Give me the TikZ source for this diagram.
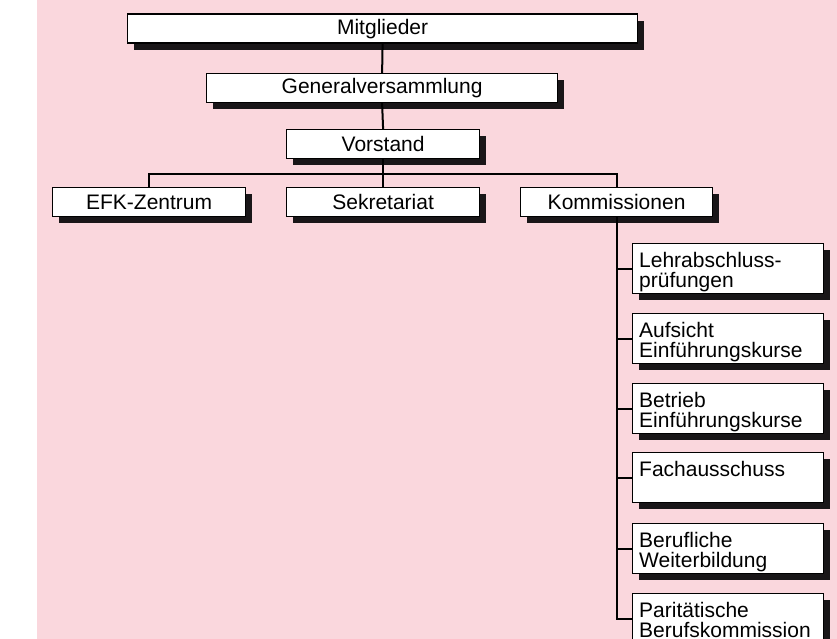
\documentclass[tikz,border=0pt]{standalone}
\usepackage{fontspec}
\setmainfont{Liberation Sans}
\usetikzlibrary{shadows}
\definecolor{bgpink}{RGB}{250,215,221}
\definecolor{shadowc}{RGB}{25,22,24}
\begin{document}
\begin{tikzpicture}[x=1pt,y=-1pt,
  box/.style={draw=black, line width=1.2pt, fill=white, rectangle, anchor=north west,
    inner sep=0pt, font=\fontsize{21}{21}\selectfont,
    general shadow={fill=shadowc, shadow xshift=6.5pt, shadow yshift=-6.5pt}},
  rbox/.style={box, minimum width=191pt, minimum height=50pt},
  rtxt/.style={anchor=north west, inner sep=0pt, align=left,
    font=\fontsize{21}{20.5}\selectfont},
  conn/.style={draw=black, line width=2pt}]
\clip (0,0) rectangle (837,639);
\fill[white] (0,0) rectangle (837,639);
\fill[bgpink] (37,0) rectangle (837,639);
% top chain
\node[box, minimum width=510pt, minimum height=29pt] (m) at (127,13.5) {Mitglieder};
\node[box, minimum width=351pt, minimum height=29pt] (g) at (206,73) {Generalversammlung};
\node[box, minimum width=193pt, minimum height=29pt] (v) at (286,129) {Vorstand};
% second row
\node[box, minimum width=193pt, minimum height=29pt] (e) at (52,187) {EFK-Zentrum};
\node[box, minimum width=193pt, minimum height=29pt] (s) at (286,187) {Sekretariat};
\node[box, minimum width=192pt, minimum height=29pt] (k) at (520,187) {Kommissionen};
% commissions
\node[rbox] (k1) at (632,243) {};
\node[rbox] (k2) at (632,313) {};
\node[rbox] (k3) at (632,383) {};
\node[rbox] (k4) at (632,452) {};
\node[rbox] (k5) at (632,523) {};
\node[rbox] (k6) at (632,593) {};
\node[rtxt] (t1) at (639,252) {Lehrabschluss-\\prüfungen};
\node[rtxt] (t2) at (639,322) {Aufsicht\\Einführungskurse};
\node[rtxt] (t3) at (639,392) {Betrieb\\Einführungskurse};
\node[rtxt] (t4) at (639,461) {Fachausschuss};
\node[rtxt] (t5) at (639,532) {Berufliche\\Weiterbildung};
\node[rtxt] (t6) at (639,602) {Paritätische\\Berufskommission};
% connectors
\coordinate (bar) at (0,174);
\draw[conn] (m.south) -- (g.north);
\draw[conn] (g.south) -- (v.north);
\draw[conn] (v.south) -- (v.south |- bar);
\draw[conn] (e.north) -- (e.north |- bar) -- (k.north |- bar) -- (k.north);
\draw[conn] (s.north) -- (s.north |- bar);
\draw[conn] (k.south) |- (k6.west);
\draw[conn] (k.south |- k1.west) -- (k1.west);
\draw[conn] (k.south |- k2.west) -- (k2.west);
\draw[conn] (k.south |- k3.west) -- (k3.west);
\draw[conn] (k.south |- k4.west) -- (k4.west);
\draw[conn] (k.south |- k5.west) -- (k5.west);
\end{tikzpicture}
\end{document}
